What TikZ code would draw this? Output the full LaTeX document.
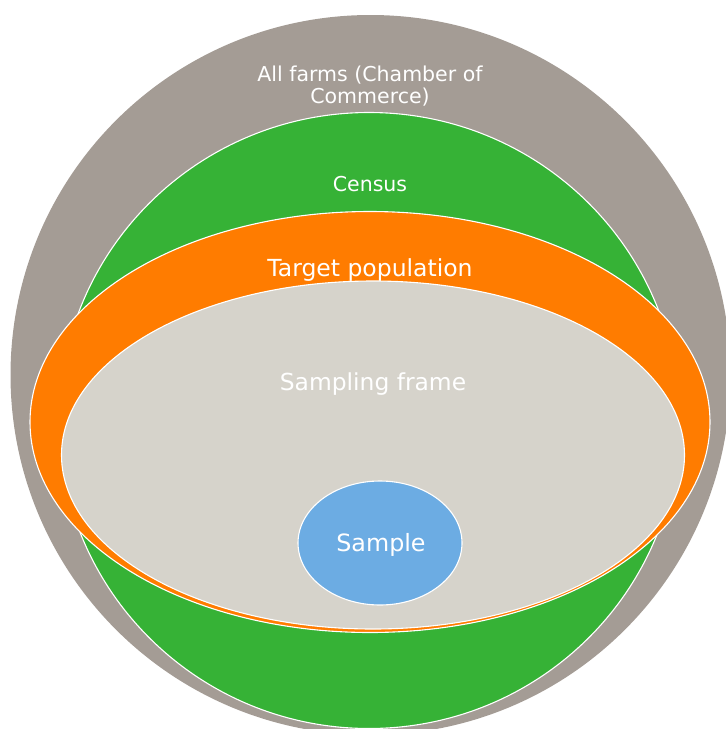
\documentclass[tikz,border=0pt]{standalone}
\usepackage{fontspec}
\setmainfont{DejaVu Sans}
\usetikzlibrary{shapes.geometric}
\definecolor{farmgray}{HTML}{A49C95}
\definecolor{censusgreen}{HTML}{36B236}
\definecolor{targetorange}{HTML}{FF7C00}
\definecolor{framebeige}{HTML}{D6D3CB}
\definecolor{sampleblue}{HTML}{6CACE3}
\tikzset{
  setblob/.style={ellipse, draw=white, line width=1.1pt, inner sep=0pt},
  setlabel/.style={text=white, align=center, inner sep=0pt},
}
\begin{document}
\begin{tikzpicture}[x=1pt, y=-1pt]
  \useasboundingbox (0,0) rectangle (726,729);
  \clip (0,0) rectangle (726,729);
  % nested sets, outermost first
  \node[setblob, draw=none, fill=farmgray, minimum width=720pt, minimum height=720pt] (all) at (370.5,375) {};
  \node[setblob, fill=censusgreen, minimum width=620pt, minimum height=616pt] (census) at (369,420.5) {};
  \node[setblob, fill=targetorange, minimum width=680pt, minimum height=421pt] (target) at (370,422) {};
  \node[setblob, fill=framebeige, minimum width=623pt, minimum height=348pt] (frame) at (373,455) {};
  \node[setblob, fill=sampleblue, minimum width=164pt, minimum height=124pt] (sample) at (380,543) {};
  % labels
  \node[setlabel, font=\fontsize{20.5}{22.5}\selectfont] (allT) at (370,86) {All farms (Chamber of\\Commerce)};
  \node[setlabel, font=\fontsize{20.5}{22}\selectfont] (censusT) at (370,184) {Census};
  \node[setlabel, font=\fontsize{23.5}{26}\selectfont] (targetT) at (370,270) {Target population};
  \node[setlabel, font=\fontsize{23.4}{26}\selectfont] (frameT) at (373,384) {Sampling frame};
  \node[setlabel, font=\fontsize{23.8}{26}\selectfont] (sampleT) at (381,545) {Sample};
\end{tikzpicture}
\end{document}
